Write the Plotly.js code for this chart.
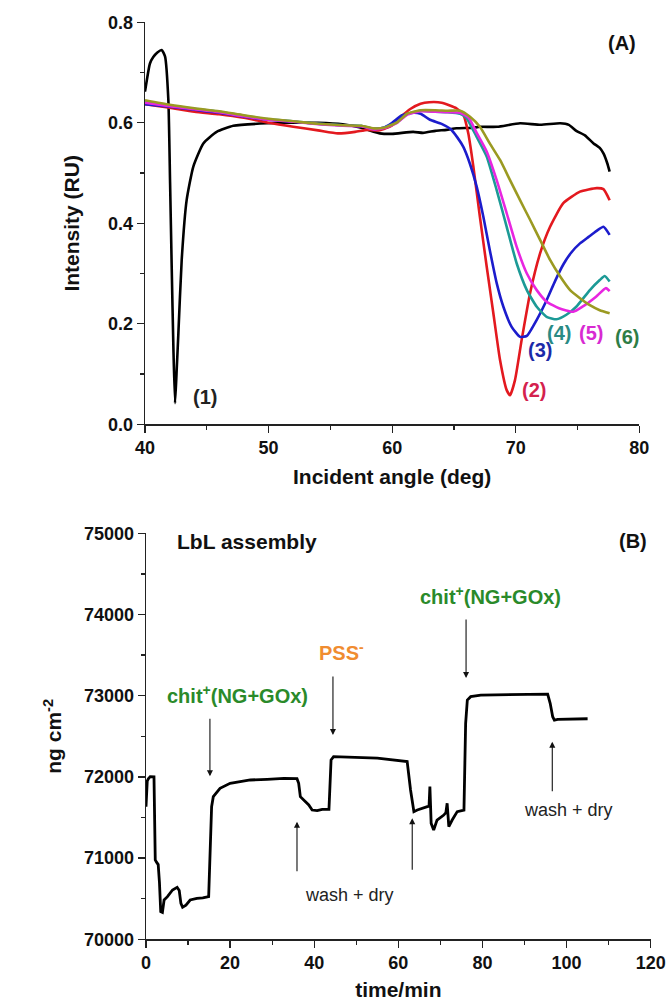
<!DOCTYPE html>
<html>
<head>
<meta charset="utf-8">
<script src="https://cdn.plot.ly/plotly-3.0.1.min.js"></script>
<style>html,body{margin:0;padding:0;background:#fff;}#chart{width:667px;height:1006px;}</style>
</head>
<body>
<div id="chart"></div>
<script>
// ---------- Panel A: SPR curves (angle in deg, intensity in RU) ----------
const angle1 = [40.0, 40.4, 40.67, 41.0, 41.35, 41.62, 41.89, 42.03, 42.16, 42.3, 42.43, 42.55, 42.7, 42.97, 43.37, 43.91, 44.72, 45.8, 47.15, 49.85, 52, 54, 56, 57.5, 58.5, 59.0, 60, 61.7, 62.5, 63.5, 64.4, 65.2, 66.5, 67.1, 68.5, 70.35, 72, 73.6, 74.3, 74.9, 75.6, 76.3, 76.8, 77.1, 77.4, 77.6];
const intensity1 = [0.662, 0.718, 0.731, 0.740, 0.745, 0.732, 0.645, 0.48, 0.314, 0.15, 0.042, 0.10, 0.181, 0.327, 0.446, 0.513, 0.559, 0.582, 0.594, 0.599, 0.600, 0.600, 0.597, 0.590, 0.582, 0.579, 0.578, 0.582, 0.580, 0.584, 0.586, 0.589, 0.590, 0.592, 0.592, 0.599, 0.596, 0.599, 0.596, 0.584, 0.575, 0.559, 0.550, 0.539, 0.520, 0.503];

const angle2 = [40, 42, 44, 46, 48, 50, 52, 54, 55.6, 57, 58, 59, 60, 60.7, 61.5, 62.3, 63, 64, 65.2, 65.76, 66.16, 66.57, 67.1, 67.65, 68.19, 68.73, 69.27, 69.54, 69.94, 70.48, 71.16, 71.97, 72.78, 73.85, 75.2, 76.55, 77.1, 77.6];
const intensity2 = [0.637, 0.630, 0.622, 0.617, 0.610, 0.600, 0.592, 0.585, 0.579, 0.582, 0.586, 0.585, 0.595, 0.612, 0.628, 0.638, 0.641, 0.640, 0.629, 0.616, 0.579, 0.513, 0.413, 0.314, 0.221, 0.128, 0.068, 0.058, 0.088, 0.168, 0.261, 0.340, 0.393, 0.440, 0.463, 0.470, 0.468, 0.446];

const angle3 = [40, 42, 44, 46, 48, 50, 52, 54, 56, 57.5, 58.5, 59.3, 60, 60.8, 61.7, 62.3, 63.06, 64.0, 64.7, 65.3, 65.76, 66.3, 66.84, 67.38, 67.9, 68.46, 69.0, 69.67, 70.35, 70.9, 71.7, 72.5, 73.2, 73.85, 74.5, 75.2, 75.9, 76.55, 77.1, 77.6];
const intensity3 = [0.637, 0.632, 0.626, 0.620, 0.612, 0.606, 0.602, 0.598, 0.595, 0.593, 0.588, 0.590, 0.600, 0.615, 0.620, 0.618, 0.606, 0.598, 0.588, 0.570, 0.552, 0.518, 0.473, 0.413, 0.347, 0.281, 0.234, 0.194, 0.174, 0.176, 0.208, 0.247, 0.286, 0.318, 0.342, 0.360, 0.373, 0.385, 0.393, 0.377];

const angle4 = [40, 42, 44, 46, 48, 50, 52, 54, 56, 57.5, 58.5, 59.3, 60.4, 61.2, 62.3, 63.5, 64.5, 65.5, 66.0, 66.84, 67.65, 68.46, 69.27, 70.08, 70.9, 71.7, 72.5, 73.3, 74.1, 74.9, 76.0, 76.8, 77.2, 77.6];
const intensity4 = [0.641, 0.634, 0.628, 0.622, 0.614, 0.607, 0.603, 0.598, 0.595, 0.594, 0.588, 0.590, 0.601, 0.617, 0.624, 0.622, 0.621, 0.618, 0.610, 0.572, 0.533, 0.466, 0.393, 0.320, 0.267, 0.234, 0.214, 0.209, 0.218, 0.234, 0.267, 0.287, 0.295, 0.284];

const angle5 = [40, 42, 44, 46, 48, 50, 52, 54, 56, 57.5, 58.5, 59.3, 60.4, 61.2, 62.3, 63.5, 64.5, 65.5, 66.2, 66.84, 67.65, 68.46, 69.27, 70.08, 70.9, 71.7, 72.5, 73.5, 74.66, 75.4, 76.5, 77.3, 77.6];
const intensity5 = [0.640, 0.633, 0.627, 0.621, 0.613, 0.606, 0.602, 0.597, 0.594, 0.593, 0.587, 0.589, 0.600, 0.616, 0.623, 0.622, 0.621, 0.620, 0.610, 0.580, 0.543, 0.486, 0.420, 0.353, 0.300, 0.267, 0.244, 0.231, 0.224, 0.234, 0.254, 0.271, 0.265];

const angle6 = [40, 42, 44, 46, 48, 50, 52, 54, 56, 57.5, 58.5, 59.3, 60.4, 61.2, 62.3, 63.5, 64.5, 65.5, 66.3, 67.1, 67.9, 68.73, 69.54, 70.35, 71.16, 71.97, 72.78, 73.6, 74.4, 75.2, 76.0, 76.8, 77.6];
const intensity6 = [0.645, 0.636, 0.629, 0.623, 0.615, 0.608, 0.603, 0.598, 0.595, 0.594, 0.589, 0.590, 0.601, 0.618, 0.625, 0.625, 0.624, 0.624, 0.612, 0.592, 0.559, 0.526, 0.486, 0.446, 0.407, 0.367, 0.327, 0.294, 0.267, 0.251, 0.237, 0.227, 0.221];

const curveLabels = ["(1)", "(2)", "(3)", "(4)", "(5)", "(6)"];

// ---------- Panel B: LbL assembly (time in min, mass in ng cm^-2) ----------
const timeMin = [0, 0.3, 0.6, 1.0, 1.9, 2.0, 2.2, 2.5, 2.9, 3.2, 3.5, 3.9, 4.3, 5.1, 6.3, 7.4, 7.9, 8.3, 8.7, 9.5, 10.5, 12.1, 13.5, 14.9, 15.1, 15.4, 15.6, 16.0, 17.6, 20, 24.8, 28.8, 32.8, 35.9, 36.3, 36.7, 37.5, 38.7, 39.5, 40.7, 41.9, 43.5, 43.7, 44.0, 44.6, 50, 55, 62.1, 62.9, 63.7, 64.5, 66.9, 67.3, 67.5, 67.8, 68.4, 69.2, 70.8, 71.3, 71.6, 72.0, 72.8, 74.0, 75.6, 76.0, 76.4, 77.2, 79.6, 87.5, 95.5, 96.1, 96.7, 97.1, 97.9, 105.0];
const massNg = [71633, 71950, 71980, 72003, 72000, 71500, 70977, 70950, 70920, 70700, 70340, 70330, 70484, 70525, 70607, 70640, 70600, 70443, 70394, 70420, 70484, 70505, 70510, 70525, 70813, 71429, 71633, 71756, 71860, 71921, 71962, 71970, 71982, 71978, 71921, 71756, 71716, 71654, 71592, 71584, 71600, 71600, 71839, 72208, 72249, 72235, 72230, 72188, 71839, 71572, 71592, 71633, 71640, 71880, 71428, 71346, 71469, 71530, 71560, 71675, 71387, 71469, 71572, 71592, 72660, 72947, 72988, 73008, 73016, 73020, 72906, 72741, 72700, 72708, 72716];

const stepLabels = ["chit<sup>+</sup>(NG+GOx)", "PSS<sup>-</sup>", "chit<sup>+</sup>(NG+GOx)", "wash + dry", "wash + dry"];

// ---------- Styling ----------
const FONT = "Liberation Sans, Arial, Helvetica, sans-serif";
const colors = ["#000000", "#e3191f", "#1c1ccc", "#1c9a96", "#e826e0", "#9b9a22"];
const labelColors = ["#222222", "#d4214e", "#1c2aa8", "#2a8a84", "#d82ad2", "#2e7d46"];

const series = [
  [angle1, intensity1], [angle2, intensity2], [angle3, intensity3],
  [angle4, intensity4], [angle5, intensity5], [angle6, intensity6]
];
const traces = series.map((s, i) => ({
  x: s[0], y: s[1], type: "scatter", mode: "lines",
  line: {color: colors[i], width: 2.6, shape: "spline", smoothing: 0.5},
  xaxis: "x", yaxis: "y", hoverinfo: "skip", showlegend: false
}));
traces.push({
  x: timeMin, y: massNg, type: "scatter", mode: "lines",
  line: {color: "#000000", width: 2.8},
  xaxis: "x2", yaxis: "y2", hoverinfo: "skip", showlegend: false
});

const tickFont = {family: FONT, size: 18, color: "#111", weight: "bold"};
const titleFont = {family: FONT, size: 21, color: "#111", weight: "bold"};
function axisBase() {
  return {
    showline: true, linecolor: "#222", linewidth: 1.3,
    ticks: "outside", ticklen: 7, tickwidth: 1.3, tickcolor: "#222",
    showgrid: false, zeroline: false, tickfont: tickFont, automargin: false,
    fixedrange: true
  };
}

const labelPos = [[44.84, 0.055], [71.46, 0.068], [72.0, 0.148], [73.53, 0.182], [76.13, 0.182], [78.97, 0.174]];
const annotations = [];
curveLabels.forEach((t, i) => annotations.push({
  xref: "x", yref: "y", x: labelPos[i][0], y: labelPos[i][1], text: t, showarrow: false,
  xanchor: "center", yanchor: "middle",
  font: {family: FONT, size: 20, color: labelColors[i], weight: "bold"}
}));
annotations.push({xref: "paper", yref: "paper", x: 622/667, y: 1 - 43/1006, text: "(A)", showarrow: false,
  xanchor: "center", yanchor: "middle",
  font: {family: FONT, size: 20, color: "#111", weight: "bold"}});
annotations.push({xref: "paper", yref: "paper", x: 633/667, y: 1 - 541/1006, text: "(B)", showarrow: false,
  xanchor: "center", yanchor: "middle",
  font: {family: FONT, size: 20, color: "#111", weight: "bold"}});
annotations.push({xref: "x2", yref: "y2", x: 23.9, y: 74897, text: "LbL assembly", showarrow: false,
  xanchor: "center", yanchor: "middle",
  font: {family: FONT, size: 21, color: "#111", weight: "bold"}});

// step texts
const green = "#2a8a2a", orange = "#f08c30";
const textPos = [[21.7, 73020, green, true], [46.4, 73540, orange, true], [81.9, 74230, green, true], [48.5, 70546, "#222", false], [100.4, 71592, "#222", false]];
stepLabels.forEach((t, i) => annotations.push({
  xref: "x2", yref: "y2", x: textPos[i][0], y: textPos[i][1], text: t, showarrow: false,
  xanchor: "center", yanchor: "middle",
  font: {family: FONT, size: textPos[i][3] ? 20 : 18, color: textPos[i][2], weight: textPos[i][3] ? "bold" : "normal"}
}));
// arrows (head at x,y; tail offset in px)
const arrows = [[15.2, 72007, -59], [44.45, 72516, -60], [76.1, 73218, -60], [35.9, 71448, 51], [63.3, 71490, 53], [96.6, 72433, 51]];
arrows.forEach(a => annotations.push({
  xref: "x2", yref: "y2", x: a[0], y: a[1], ax: 0, ay: a[2], text: "", showarrow: true,
  arrowhead: 2, arrowsize: 1.1, arrowwidth: 1.1, arrowcolor: "#111"
}));

const layout = {
  width: 667, height: 1006,
  margin: {l: 0, r: 0, t: 0, b: 0},
  paper_bgcolor: "#ffffff", plot_bgcolor: "#ffffff",
  showlegend: false,
  xaxis: Object.assign(axisBase(), {
    domain: [145/667, 639.3/667], range: [40, 80], dtick: 10, tick0: 40, anchor: "y",
    minor: {ticks: "outside", ticklen: 4, dtick: 5, tickcolor: "#222", tickwidth: 1.2},
    title: {text: "Incident angle (deg)", font: titleFont, standoff: 12}
  }),
  yaxis: Object.assign(axisBase(), {
    domain: [1 - 424.3/1006, 1 - 22.3/1006], range: [0, 0.8], dtick: 0.2, tick0: 0, tickformat: ".1f", anchor: "x",
    minor: {ticks: "outside", ticklen: 4, dtick: 0.1, tickcolor: "#222", tickwidth: 1.2},
    title: {text: "Intensity (RU)", font: titleFont, standoff: 22}
  }),
  xaxis2: Object.assign(axisBase(), {
    domain: [146/667, 650.7/667], range: [0, 120], dtick: 20, tick0: 0, anchor: "y2",
    minor: {ticks: "outside", ticklen: 4, dtick: 10, tickcolor: "#222", tickwidth: 1.2},
    title: {text: "time/min", font: titleFont, standoff: 10}
  }),
  yaxis2: Object.assign(axisBase(), {
    domain: [1 - 939.3/1006, 1 - 533.3/1006], range: [70000, 75000], dtick: 1000, tick0: 70000, tickformat: "d", anchor: "x2",
    minor: {ticks: "outside", ticklen: 4, dtick: 500, tickcolor: "#222", tickwidth: 1.2},
    title: {text: "ng cm<sup>-2</sup>", font: titleFont, standoff: 16}
  }),
  annotations: annotations
};

Plotly.newPlot("chart", traces, layout, {staticPlot: true, displayModeBar: false});
</script>
</body>
</html>
